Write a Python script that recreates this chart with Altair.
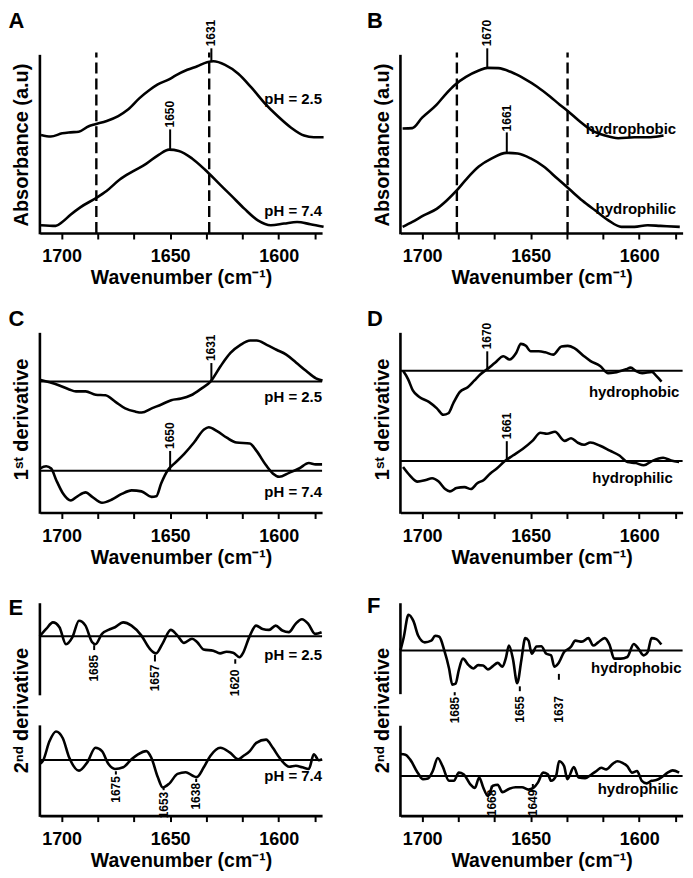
import altair as alt
import pandas as pd

FONT = "Liberation Sans"
X_DOMAIN = [1580, 1710]
X_TICKS = [1700, 1683.33, 1666.67, 1650, 1633.33, 1616.67, 1600, 1583.33]
X_TITLE = "Wavenumber (cm⁻¹)"

# ---------------- Panel A : absorbance ----------------
A_TOP_WN = [1709.5, 1705.0, 1699.7, 1695.9, 1692.1, 1687.5, 1684.5, 1679.2, 1673.9, 1669.4, 1664.1, 1659.5, 1655.7, 1650.5,
            1647.4, 1642.1, 1637.5, 1633.0, 1630.0, 1624.7, 1618.6, 1612.5, 1606.5, 1600.5, 1594.4, 1588.3, 1583.8, 1579.3]
A_TOP_Y = [100.3, 98.7, 102.0, 103.0, 103.7, 109.3, 111.3, 114.7, 119.7, 126.3, 138.0, 146.3, 152.0, 157.3,
           161.3, 167.0, 170.7, 174.7, 175.7, 172.0, 163.0, 148.7, 133.0, 119.7, 108.0, 99.7, 98.0, 98.0]
A_BOT_WN = [1709.5, 1702.7, 1699.7, 1695.9, 1691.4, 1684.5, 1679.3, 1673.2, 1667.2, 1661.1, 1655.1, 1650.5, 1646.0, 1639.9,
            1633.9, 1627.8, 1621.7, 1615.7, 1609.6, 1603.6, 1597.5, 1591.5, 1585.4, 1579.3]
A_BOT_Y = [8.0, 7.3, 11.3, 18.7, 26.3, 35.3, 43.0, 54.7, 63.0, 70.7, 80.3, 85.3, 84.0, 76.3,
           64.7, 51.3, 38.0, 24.7, 13.0, 8.0, 9.7, 11.3, 9.0, 6.3]
A_DASH_WN = [1684, 1632]
A_MARK_WN = [1631, 1650]
A_MARK_Y0 = [176, 86]
A_MARK_Y1 = [189, 106]
A_MARK_TY = [191, 108]
A_LABELS = ["pH = 2.5", "pH = 7.4"]
A_LABEL_WN = [1580, 1580]
A_LABEL_Y = [137, 23]

# ---------------- Panel B : absorbance ----------------
B_TOP_WN = [1709.0, 1704.5, 1700.0, 1693.3, 1688.8, 1685.1, 1679.8, 1673.9, 1669.9, 1664.9, 1659.0, 1653.0, 1647.0, 1641.1,
            1636.6, 1632.8, 1627.6, 1621.6, 1615.7, 1609.7, 1602.2, 1594.8, 1588.8]
B_TOP_Y = [107.0, 107.3, 118.0, 131.3, 143.0, 151.3, 159.7, 166.3, 169.0, 168.7, 164.7, 158.0, 149.7, 139.7,
           131.3, 124.7, 114.7, 104.7, 99.7, 97.0, 98.0, 98.0, 99.7]
B_BOT_WN = [1709.0, 1704.5, 1699.3, 1693.3, 1688.8, 1684.3, 1679.8, 1673.9, 1667.9, 1661.2, 1656.0, 1650.0, 1644.0, 1638.0,
            1632.1, 1626.1, 1620.2, 1614.2, 1608.2, 1602.2, 1596.2, 1590.3, 1581.3]
B_BOT_Y = [6.3, 11.3, 18.0, 24.7, 33.0, 43.0, 54.7, 68.0, 76.3, 82.0, 81.3, 76.3, 68.0, 56.3,
           44.7, 33.0, 23.0, 13.0, 6.3, 6.3, 8.0, 7.3, 6.3]
B_DASH_WN = [1684, 1633]
B_MARK_WN = [1670, 1661]
B_MARK_Y0 = [169, 82]
B_MARK_Y1 = [189, 103]
B_MARK_TY = [191, 104]
B_LABELS = ["hydrophobic", "hydrophilic"]
B_LABEL_WN = [1583, 1583]
B_LABEL_Y = [106, 25]

# ---------------- Panel C : 1st derivative ----------------
C_TOP_WN = [1710.1, 1705.5, 1701.0, 1696.5, 1693.4, 1688.9, 1684.3, 1679.8, 1675.2, 1670.7, 1666.1, 1663.1, 1658.5, 1654.0,
            1649.5, 1644.9, 1640.4, 1635.8, 1631.3, 1626.7, 1622.2, 1617.6, 1613.1, 1610.1, 1605.5, 1601.0, 1596.5, 1591.9,
            1587.4, 1582.8, 1579.8]
C_TOP_Y = [136.0, 133.3, 130.0, 126.0, 124.0, 124.0, 120.6, 120.0, 113.3, 106.6, 103.3, 102.3, 106.6, 110.6,
           115.0, 116.6, 120.0, 126.6, 134.3, 150.0, 163.3, 171.6, 176.0, 176.0, 171.6, 166.6, 161.6, 153.3,
           145.0, 137.3, 135.0]
C_BOT_WN = [1710.1, 1707.1, 1704.8, 1702.5, 1699.5, 1695.7, 1692.7, 1688.9, 1685.9, 1681.4, 1676.8, 1672.3, 1667.7, 1663.2,
            1658.6, 1656.4, 1654.1, 1651.1, 1648.1, 1643.5, 1639.0, 1634.4, 1632.2, 1628.4, 1623.9, 1619.4, 1613.3, 1610.3,
            1605.8, 1602.7, 1599.7, 1595.2, 1590.6, 1586.1, 1583.0, 1580.0]
C_BOT_Y = [45.0, 47.3, 45.0, 33.3, 20.0, 12.3, 16.6, 20.6, 16.0, 10.0, 13.3, 19.0, 22.6, 21.6,
           16.0, 16.6, 30.0, 43.3, 50.0, 60.0, 71.6, 85.0, 87.3, 83.3, 76.6, 71.6, 70.6, 63.3,
           48.3, 40.0, 36.6, 40.6, 45.0, 50.6, 49.3, 49.3]
C_ZERO = [134.0, 42.7]
C_MARK_WN = [1631, 1650]
C_MARK_Y0 = [134, 42.7]
C_MARK_Y1 = [153, 63]
C_MARK_TY = [155, 65]
C_LABELS = ["pH = 2.5", "pH = 7.4"]
C_LABEL_WN = [1580, 1580]
C_LABEL_Y = [118, 20.6]

# ---------------- Panel D : 1st derivative ----------------
D_TOP_WN = [1708.8, 1706.5, 1704.3, 1701.3, 1696.9, 1693.2, 1690.2, 1687.9, 1685.7, 1682.7, 1679.0, 1676.0, 1673.1, 1670.1,
            1666.4, 1662.6, 1659.7, 1656.7, 1654.5, 1652.2, 1650.0, 1646.3, 1643.3, 1639.6, 1635.8, 1632.9, 1629.9, 1625.4,
            1622.4, 1618.0, 1614.3, 1611.3, 1606.1, 1603.9, 1601.6, 1598.6, 1594.2, 1591.9, 1589.7]
D_TOP_Y = [145.0, 136.6, 125.0, 118.3, 113.3, 106.6, 100.0, 101.6, 111.6, 123.3, 128.3, 135.0, 141.6, 146.6,
           153.3, 160.0, 156.6, 163.3, 172.6, 170.6, 165.0, 165.0, 164.0, 161.6, 170.0, 170.6, 168.3, 160.0,
           155.0, 150.0, 142.6, 143.3, 146.6, 148.3, 145.0, 142.6, 144.0, 139.3, 134.0]
D_BOT_WN = [1708.8, 1705.8, 1702.1, 1698.3, 1695.4, 1692.4, 1689.4, 1687.2, 1684.2, 1680.5, 1677.5, 1674.6, 1671.6, 1668.6,
            1665.6, 1661.9, 1658.2, 1653.7, 1649.2, 1645.5, 1642.5, 1638.8, 1634.4, 1631.4, 1628.4, 1625.4, 1622.5, 1618.0,
            1613.5, 1609.1, 1605.4, 1601.6, 1597.9, 1594.2, 1589.0, 1585.3, 1581.6]
D_BOT_Y = [46.6, 38.3, 31.6, 33.3, 35.0, 31.6, 24.0, 21.6, 25.0, 26.0, 24.0, 30.0, 33.3, 40.0,
           45.0, 52.6, 58.3, 65.0, 73.3, 81.6, 80.6, 82.6, 73.3, 76.0, 71.6, 69.3, 71.6, 68.3,
           63.3, 58.3, 51.6, 50.6, 48.3, 52.6, 56.0, 53.3, 51.6]
D_ZERO = [145.0, 52.6]
D_MARK_WN = [1670, 1661]
D_MARK_Y0 = [145, 52.6]
D_MARK_Y1 = [165, 73]
D_MARK_TY = [167, 75]
D_LABELS = ["hydrophobic", "hydrophilic"]
D_LABEL_WN = [1581.5, 1584.5]
D_LABEL_Y = [123, 35]

# ---------------- Panel E : 2nd derivative ----------------
E_TOP_WN = [1710.1, 1707.1, 1704.0, 1701.0, 1698.0, 1695.0, 1692.0, 1689.0, 1686.0, 1684.4, 1681.4, 1678.4, 1675.4, 1671.6,
            1667.8, 1663.3, 1659.5, 1656.5, 1653.5, 1649.7, 1646.7, 1643.6, 1639.9, 1637.6, 1634.6, 1630.1, 1627.0, 1624.0,
            1621.0, 1618.0, 1616.5, 1613.4, 1610.4, 1607.4, 1604.4, 1601.4, 1598.3, 1595.3, 1592.3, 1589.3, 1586.3, 1583.2,
            1580.2]
E_TOP_Y = [183.4, 191.0, 197.7, 192.7, 175.4, 182.7, 199.4, 194.4, 177.7, 175.4, 186.0, 190.0, 192.7, 197.7,
           194.4, 184.4, 171.0, 166.0, 176.0, 190.0, 184.4, 176.7, 181.0, 177.7, 170.0, 168.7, 166.0, 167.7,
           166.7, 162.0, 166.0, 183.4, 194.4, 191.0, 190.0, 194.4, 189.4, 187.7, 196.0, 201.0, 196.0, 186.0,
           187.7]
E_BOT_WN = [1710.2, 1708.6, 1705.6, 1702.6, 1699.5, 1696.5, 1692.0, 1688.2, 1684.4, 1681.4, 1678.4, 1675.4, 1671.6, 1667.8,
            1664.8, 1661.0, 1658.7, 1655.7, 1653.4, 1650.4, 1646.6, 1642.8, 1639.8, 1637.8, 1634.5, 1631.5, 1626.9, 1622.4,
            1618.6, 1616.3, 1613.3, 1610.3, 1605.8, 1602.7, 1599.7, 1595.1, 1592.1, 1589.1, 1586.1, 1583.8, 1581.5, 1580.0]
E_BOT_Y = [52.7, 56.0, 76.0, 86.0, 79.4, 59.4, 46.0, 54.4, 69.4, 66.0, 52.7, 47.7, 49.4, 57.7,
           62.7, 66.0, 59.4, 39.4, 28.7, 32.7, 42.7, 44.4, 41.0, 39.4, 49.4, 61.0, 69.4, 64.4,
           57.7, 61.0, 66.0, 74.4, 77.7, 69.4, 59.4, 50.0, 51.0, 49.4, 47.7, 62.7, 56.7, 57.7]
E_ZERO = [183.4, 57.0]
E_AXIS_Y0 = [124.4, 0]
E_AXIS_Y1 = [216, 91]
E_MARK_WN = [1685, 1657, 1620, 1675, 1653, 1638]
E_MARK_Y0 = [174.4, 164.4, 160.0, 45.4, 28.7, 37.7]
E_MARK_Y1 = [169.4, 157.7, 155.4, 42.0, 26.0, 34.4]
E_MARK_TY = [164.4, 154.4, 149.4, 40.4, 24.4, 33.4]
E_LABELS = ["pH = 2.5", "pH = 7.4"]
E_LABEL_WN = [1580, 1580]
E_LABEL_Y = [164.4, 40]

# ---------------- Panel F : 2nd derivative ----------------
F_TOP_WN = [1710.0, 1708.5, 1706.3, 1704.0, 1701.8, 1698.8, 1695.8, 1694.0, 1692.1, 1689.8, 1687.6, 1686.1, 1684.6, 1683.1,
            1681.2, 1678.6, 1676.4, 1674.2, 1671.9, 1669.7, 1667.4, 1665.2, 1663.0, 1661.5, 1660.0, 1658.2, 1656.2, 1654.3,
            1652.5, 1651.0, 1649.5, 1647.3, 1645.1, 1642.8, 1640.6, 1639.1, 1637.3, 1634.6, 1631.6, 1629.4, 1626.4, 1623.4,
            1621.2, 1618.9, 1615.9, 1613.7, 1611.5, 1608.5, 1605.5, 1602.5, 1600.3, 1598.0, 1596.1, 1594.3, 1592.1, 1589.8]
F_TOP_Y = [169.0, 182.3, 205.6, 199.0, 184.0, 177.3, 179.0, 184.0, 183.0, 169.0, 150.6, 134.0, 135.0, 149.0,
           160.6, 154.0, 150.6, 154.0, 153.6, 149.6, 153.0, 156.3, 152.3, 160.6, 174.0, 160.6, 135.6, 159.0,
           181.6, 179.0, 165.6, 173.0, 173.3, 165.6, 164.0, 152.3, 155.6, 167.3, 172.3, 179.0, 178.0, 181.6,
           174.0, 177.3, 181.6, 175.0, 160.6, 160.6, 162.3, 175.6, 170.6, 164.0, 167.3, 181.6, 180.6, 175.0]
F_BOT_WN = [1710.0, 1707.7, 1705.5, 1701.8, 1699.6, 1697.3, 1695.1, 1692.8, 1690.6, 1687.6, 1685.4, 1683.1, 1680.9, 1677.9,
            1675.7, 1673.7, 1671.9, 1669.7, 1667.4, 1665.2, 1663.0, 1660.0, 1657.0, 1654.0, 1651.0, 1648.8, 1646.6, 1644.3,
            1642.1, 1640.6, 1638.3, 1636.9, 1634.6, 1633.1, 1630.1, 1627.9, 1624.9, 1621.9, 1619.7, 1617.5, 1615.2, 1612.2,
            1610.0, 1607.7, 1605.5, 1603.3, 1601.0, 1598.8, 1596.6, 1594.3, 1592.1, 1589.8, 1586.9, 1584.6, 1581.6]
F_BOT_Y = [63.0, 62.3, 57.3, 43.0, 37.3, 38.0, 45.6, 59.0, 50.6, 35.6, 35.6, 44.0, 42.3, 32.3,
           28.3, 39.0, 29.0, 20.0, 30.6, 31.6, 24.0, 27.3, 29.0, 29.0, 26.6, 28.3, 34.0, 44.0,
           42.3, 35.6, 40.6, 55.6, 50.6, 37.3, 49.6, 39.0, 38.3, 42.3, 45.6, 49.0, 47.3, 53.0,
           55.6, 54.0, 50.6, 44.0, 45.6, 35.6, 33.0, 35.6, 36.3, 39.0, 44.0, 46.3, 44.0]
F_ZERO = [169.0, 40.6]
F_AXIS_Y0 = [125.6, 0]
F_AXIS_Y1 = [216, 90.6]
F_MARK_WN = [1685, 1655, 1637, 1668, 1649]
F_MARK_Y0 = [126.3, 132.3, 145.0, 30.6, 32.3]
F_MARK_Y1 = [123.0, 127.3, 139.0, 28.3, 29.0]
F_MARK_TY = [121.6, 122.3, 122.3, 26.6, 26.6]
F_LABELS = ["hydrophobic", "hydrophilic"]
F_LABEL_WN = [1580.5, 1582]
F_LABEL_Y = [150.6, 27.3]

W = 283
STROKE = 2.6


def x_enc():
    return alt.X("wn:Q",
                 scale=alt.Scale(domain=X_DOMAIN, reverse=True, nice=False, zero=False),
                 axis=alt.Axis(values=X_TICKS, title=X_TITLE,
                               labelExpr="datum.value % 50 == 0 ? format(datum.value, 'd') : ''",
                               labelFont=FONT, labelFontSize=18, labelFontWeight="bold", labelColor="black",
                               labelPadding=9, labelOverlap=False, labelFlush=False,
                               titleFont=FONT, titleFontSize=19.5, titleFontWeight="bold", titleColor="black",
                               titlePadding=3, grid=False,
                               domainColor="black", domainWidth=2.6, tickColor="black", tickWidth=2,
                               tickSize=6))


def y_axis(title):
    return alt.Axis(title=title, labels=False, ticks=False, domain=False, grid=False,
                    titleFont=FONT, titleFontSize=20, titleFontWeight="bold", titleColor="black",
                    titlePadding=8)


def y_enc(field, ymax, title):
    return alt.Y(field, scale=alt.Scale(domain=[0, ymax], nice=False, zero=False), axis=y_axis(title))


def panel(curves, ymax, height, ytitle, letter, letter_dx, letter_dy, axis_y0, axis_y1,
          zero=None, dashes=None, up=None, down=None, labels=None):
    X = x_enc()
    Y = y_enc("y:Q", ymax, ytitle)
    frames = []
    for name, (wn, yy) in curves.items():
        frames.append(pd.DataFrame({"wn": wn, "y": yy, "s": name}))
    cdf = pd.concat(frames)
    layers = []
    # y axis segments
    adf = pd.DataFrame({"wn": [X_DOMAIN[1]] * len(axis_y0), "y": axis_y0, "y2": axis_y1})
    layers.append(alt.Chart(adf).mark_rule(color="black", strokeWidth=STROKE, strokeCap="square").encode(
        x=X, y=Y, y2="y2:Q"))
    if zero is not None:
        zdf = pd.DataFrame({"y": zero})
        layers.append(alt.Chart(zdf).mark_rule(color="black", strokeWidth=2).encode(y=Y))
    if dashes is not None:
        ddf = pd.DataFrame({"wn": dashes, "y": [0] * len(dashes), "y2": [ymax * 1.02] * len(dashes)})
        layers.append(alt.Chart(ddf).mark_rule(color="black", strokeWidth=2.4, strokeDash=[11, 5]).encode(
            x=X, y=Y, y2="y2:Q"))
    layers.append(alt.Chart(cdf).mark_line(color="black", strokeWidth=STROKE, interpolate="monotone").encode(
        x=X, y=Y, detail="s:N"))
    for spec, align in ((up, "left"), (down, "right")):
        if spec is None:
            continue
        wn, y0, y1, ty = spec
        mdf = pd.DataFrame({"wn": wn, "y": y0, "y2": y1, "ty": ty, "t": [str(v) for v in wn]})
        layers.append(alt.Chart(mdf).mark_rule(color="black", strokeWidth=2).encode(x=X, y=Y, y2="y2:Q"))
        layers.append(alt.Chart(mdf).mark_text(angle=270, align=align, baseline="middle", font=FONT,
                                               fontSize=12, fontWeight="bold", color="black").encode(
            x=X, y=y_enc("ty:Q", ymax, ytitle), text="t:N"))
    if labels is not None:
        txt, wn, yy = labels
        ldf = pd.DataFrame({"wn": wn, "y": yy, "t": txt})
        layers.append(alt.Chart(ldf).mark_text(align="right", baseline="middle", font=FONT, fontSize=15,
                                               fontWeight="bold", color="black").encode(x=X, y=Y, text="t:N"))
    return alt.layer(*layers).properties(
        width=W, height=height,
        title=alt.TitleParams(text=letter, anchor="start", frame="group", dx=letter_dx, dy=letter_dy,
                              offset=0, font=FONT, fontSize=22, fontWeight="bold", color="black"))


H1 = 177.4
H2 = 187.7
H3 = 211.7
Y1 = 181
Y2 = 191.6
Y3 = 216

pA = panel({"pH 2.5": (A_TOP_WN, A_TOP_Y), "pH 7.4": (A_BOT_WN, A_BOT_Y)}, Y1, H1, "Absorbance (a.u)",
           "A", -31.4, 13, [0], [Y1], dashes=A_DASH_WN,
           up=(A_MARK_WN, A_MARK_Y0, A_MARK_Y1, A_MARK_TY), labels=(A_LABELS, A_LABEL_WN, A_LABEL_Y))
pB = panel({"hydrophobic": (B_TOP_WN, B_TOP_Y), "hydrophilic": (B_BOT_WN, B_BOT_Y)}, Y1, H1, "Absorbance (a.u)",
           "B", -33.6, 13, [0], [Y1], dashes=B_DASH_WN,
           up=(B_MARK_WN, B_MARK_Y0, B_MARK_Y1, B_MARK_TY), labels=(B_LABELS, B_LABEL_WN, B_LABEL_Y))
pC = panel({"pH 2.5": (C_TOP_WN, C_TOP_Y), "pH 7.4": (C_BOT_WN, C_BOT_Y)}, Y2, H2, "1ˢᵗ derivative",
           "C", -31.4, 6, [0], [182.6], zero=C_ZERO,
           up=(C_MARK_WN, C_MARK_Y0, C_MARK_Y1, C_MARK_TY), labels=(C_LABELS, C_LABEL_WN, C_LABEL_Y))
pD = panel({"hydrophobic": (D_TOP_WN, D_TOP_Y), "hydrophilic": (D_BOT_WN, D_BOT_Y)}, Y2, H2, "1ˢᵗ derivative",
           "D", -33.6, 8, [0], [182.6], zero=D_ZERO,
           up=(D_MARK_WN, D_MARK_Y0, D_MARK_Y1, D_MARK_TY), labels=(D_LABELS, D_LABEL_WN, D_LABEL_Y))
pE = panel({"pH 2.5": (E_TOP_WN, E_TOP_Y), "pH 7.4": (E_BOT_WN, E_BOT_Y)}, Y3, H3, "2ⁿᵈ derivative",
           "E", -31.4, 17, E_AXIS_Y0, E_AXIS_Y1, zero=E_ZERO,
           down=(E_MARK_WN, E_MARK_Y0, E_MARK_Y1, E_MARK_TY), labels=(E_LABELS, E_LABEL_WN, E_LABEL_Y))
pF = panel({"hydrophobic": (F_TOP_WN, F_TOP_Y), "hydrophilic": (F_BOT_WN, F_BOT_Y)}, Y3, H3, "2ⁿᵈ derivative",
           "F", -33.6, 15, F_AXIS_Y0, F_AXIS_Y1, zero=F_ZERO,
           down=(F_MARK_WN, F_MARK_Y0, F_MARK_Y1, F_MARK_TY), labels=(F_LABELS, F_LABEL_WN, F_LABEL_Y))

chart = alt.concat(pA, pB, pC, pD, pE, pF, columns=2,
                   spacing=alt.RowColnumber(row=92, column=78.6), bounds="flush").properties(
    padding=0, background="white").configure_view(stroke=None)

chart.save("out.html", embed_options={"renderer": "svg", "actions": False})
